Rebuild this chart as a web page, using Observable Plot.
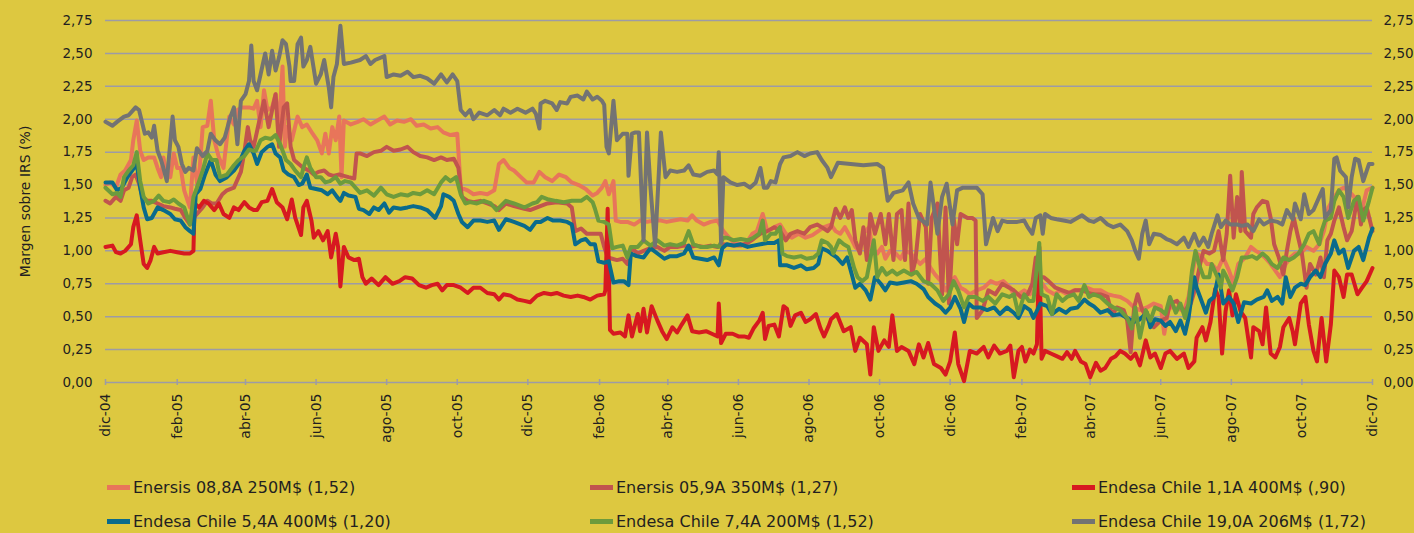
<!DOCTYPE html>
<html><head><meta charset="utf-8">
<script src="https://cdn.jsdelivr.net/npm/d3@7"></script>
<script src="https://cdn.jsdelivr.net/npm/@observablehq/plot@0.6"></script>
<style>
html,body{margin:0;padding:0;background:#ddc840;}
body{width:1414px;height:533px;overflow:hidden;font-family:"DejaVu Sans",sans-serif;color:#231f20;}
#chart svg{display:block;}
#legend{position:relative;height:83px;}
.item{position:absolute;display:flex;align-items:center;height:20px;font-size:16px;white-space:nowrap;}
.sw{width:23px;height:5px;margin-right:3px;}
</style></head><body><div id="chart"></div><div id="legend"></div>
<script>
// Days counted from 1 Dec 2004, value = margin over IRS (%)
const seriesNames = [
  "Enersis 08,8A 250M$ (1,52)", "Enersis 05,9A 350M$ (1,27)", "Endesa Chile 1,1A 400M$ (,90)",
  "Endesa Chile 5,4A 400M$ (1,20)", "Endesa Chile 7,4A 200M$ (1,52)", "Endesa Chile 19,0A 206M$ (1,72)"
];
const seriesColors = ["#e8755a", "#c1544e", "#d71920", "#0a6b8c", "#6d9b3c", "#737373"];
const yTicks = [0, 0.25, 0.5, 0.75, 1, 1.25, 1.5, 1.75, 2, 2.25, 2.5, 2.75];
const tickDates = ["2004-12-01","2005-02-01","2005-04-01","2005-06-01","2005-08-01","2005-10-01","2005-12-01",
  "2006-02-01","2006-04-01","2006-06-01","2006-08-01","2006-10-01","2006-12-01","2007-02-01","2007-04-01",
  "2007-06-01","2007-08-01","2007-10-01","2007-12-01"];
const tickLabels = ["dic-04","feb-05","abr-05","jun-05","ago-05","oct-05","dic-05","feb-06","abr-06","jun-06",
  "ago-06","oct-06","dic-06","feb-07","abr-07","jun-07","ago-07","oct-07","dic-07"];
const yLabel = "Margen sobre IRS (%)";

const enersis088 = [[0,1.50],[4,1.52],[9,1.48],[13,1.58],[17,1.61],[22,1.69],[24,1.84],[27,1.99],[30,1.76],[33,1.69],[37,1.71],[42,1.71],[45,1.63],[48,1.56],[50,1.71],[53,1.58],[56,1.56],[59,1.74],[62,1.63],[65,1.63],[68,1.46],[71,1.38],[73,1.33],[76,1.71],[80,1.46],[84,1.94],[88,1.95],[91,2.14],[94,1.84],[98,1.71],[102,1.63],[107,2.02],[111,1.96],[114,2.07],[118,2.09],[124,2.09],[128,2.08],
[131,2.14],[134,1.94],[137,2.22],[140,2.07],[144,2.09],[147,2.19],[150,1.94],[153,2.40],[155,1.79],[157,1.94],[161,1.84],[166,2.02],[170,1.94],[174,1.96],[179,1.89],[183,1.84],[187,1.74],[190,1.89],[193,1.74],[196,1.94],[199,1.84],[202,2.02],[204,1.56],[206,1.99],[212,1.96],[218,1.98],[223,2.00],[229,1.96],[235,1.99],[241,2.02],[246,1.96],[252,1.99],[258,1.98],[264,2.00],[269,1.95],[275,1.96],[281,1.93],[287,1.94],[292,1.90],[298,1.88],[304,1.89],[307,1.48],[313,1.46],[318,1.43],
[324,1.44],[330,1.43],[336,1.46],[340,1.66],[344,1.69],[349,1.63],[353,1.61],[359,1.56],[364,1.52],[370,1.52],[375,1.60],[380,1.56],[386,1.53],[392,1.58],[398,1.56],[403,1.52],[409,1.50],[415,1.47],[421,1.42],[425,1.44],[429,1.48],[432,1.53],[435,1.43],[439,1.53],[441,1.23],[445,1.22],[451,1.22],[457,1.20],[462,1.23],[468,1.22],[474,1.23],[480,1.23],[485,1.22],[491,1.23],[497,1.24],[503,1.23],[507,1.27],[511,1.23],[517,1.20],[523,1.22],[529,1.23],[534,1.15],[543,1.06],
[549,1.05],[553,1.05],[559,1.13],[563,1.15],[568,1.28],[572,1.15],[578,1.18],[583,1.20],[588,1.13],[593,1.10],[599,1.13],[605,1.10],[611,1.12],[616,1.15],[621,1.18],
[627,1.20],[631,1.15],[635,1.13],[639,1.18],[644,1.10],[648,1.03],[652,1.00],[655,1.13],[660,1.18],[663,1.00],[667,0.98],[671,1.03],[674,0.94],[678,1.00],[683,0.98],[687,0.94],[691,1.00],[696,0.98],[700,0.94],[704,0.90],[709,0.94],[713,0.87],[717,0.82],[722,0.77],[726,0.70],[730,0.75],[734,0.80],[739,0.72],[743,0.70],[747,0.67],[753,0.70],[759,0.72],[765,0.77],[770,0.75],[776,0.77],[782,0.72],
[785,0.67],[789,0.67],[794,0.70],[799,0.67],[804,0.72],[808,0.77],[814,0.70],[820,0.67],[825,0.70],[831,0.67],[837,0.70],[843,0.70],[848,0.72],[854,0.70],[860,0.70],[866,0.67],[871,0.66],[877,0.65],[883,0.62],[889,0.57],[894,0.55],[900,0.57],[906,0.60],[912,0.58],[915,0.37],[919,0.57],
[926,0.57],[932,0.54],[936,0.65],[939,0.82],[943,0.98],[948,0.95],[952,0.90],[956,0.90],[961,0.85],[966,0.95],[971,0.85],[975,0.75],[979,0.90],[985,0.95],[990,1.03],[994,1.00],[998,0.98],[1002,0.95],[1007,0.90],[1011,0.85],[1015,0.80],[1020,0.90],[1024,0.95],[1028,0.98],[1033,0.98],[1038,1.03],[1044,1.00],[1049,1.05],[1053,1.15],[1057,1.33],[1062,1.41],[1066,1.46],[1070,1.48],[1074,1.46],[1079,1.41],[1085,1.28],[1090,1.46],[1095,1.48]];

const enersis059 = [[0,1.38],[4,1.36],[9,1.41],[13,1.38],[16,1.46],[20,1.48],[23,1.56],[26,1.58],[29,1.51],[32,1.41],[36,1.38],[40,1.38],[45,1.36],[50,1.34],[56,1.33],[60,1.32],[65,1.31],[69,1.25],[73,1.20],[76,1.25],[79,1.28],[84,1.33],[88,1.38],[92,1.36],[96,1.36],[101,1.43],[105,1.46],[111,1.48],[117,1.60],[120,1.75],[123,1.94],[125,1.84],[128,1.79],[133,1.99],[137,2.14],[141,1.94],[144,2.07],[147,2.19],[150,1.79],[154,2.09],[157,2.12],[160,1.79],[163,1.69],[167,1.66],[171,1.63],[176,1.61],[180,1.58],[184,1.60],[189,1.61],[193,1.58],[197,1.57],[202,1.58],[206,1.57],[210,1.56],[215,1.55],[217,1.74],[220,1.74],[226,1.72],[232,1.75],[238,1.76],[243,1.79],[249,1.76],[255,1.77],[261,1.79],[266,1.75],[272,1.72],[278,1.71],[284,1.69],[290,1.71],[295,1.69],[301,1.70],[305,1.63],[308,1.41],[313,1.38],[318,1.37],
[324,1.38],[330,1.36],[336,1.34],[340,1.31],[346,1.36],[353,1.34],[362,1.32],[367,1.31],[373,1.33],[382,1.36],[390,1.37],[399,1.36],[403,1.33],[406,1.15],[411,1.17],[416,1.13],[422,1.13],[428,1.13],[431,1.03],[434,0.95],[438,0.94],[442,0.93],[447,0.94],[451,0.90],[455,1.02],[460,0.98],[465,1.00],[471,1.02],[477,1.03],[483,1.00],[488,1.03],[494,1.03],[500,1.04],[506,1.03],[511,1.04],[517,1.03],[523,1.04],[529,1.03],[534,1.05],[543,1.04],
[549,1.04],[555,1.06],[560,1.09],[566,1.13],[572,1.15],[578,1.18],[583,1.15],[588,1.08],[592,1.13],[598,1.15],[604,1.13],[609,1.18],[615,1.20],[619,1.18],[624,1.15],
[627,1.18],[631,1.32],[635,1.25],[639,1.33],[642,1.25],[645,1.31],[648,1.08],[652,0.98],[655,1.18],[658,0.93],[661,1.28],[665,1.13],[670,1.28],[674,1.05],[677,1.28],[681,0.93],[684,1.28],[688,1.31],[691,0.93],[694,1.36],[697,0.82],[700,0.93],[704,1.28],[709,1.18],[711,0.75],[714,1.25],[719,1.36],[723,0.67],[726,1.33],[729,0.60],[733,1.25],[736,1.05],[739,1.28],[745,1.25],[749,1.25],[752,1.23],[753,0.49],[758,0.55],[763,0.70],[769,0.67],[775,0.75],[781,0.72],
[785,0.70],[791,0.65],[797,0.67],[801,0.75],[804,0.95],[807,0.80],[811,0.80],[815,0.77],[821,0.72],[827,0.70],[833,0.68],[838,0.70],[844,0.70],[850,0.68],[854,0.67],[860,0.67],[866,0.65],[870,0.51],[874,0.57],[880,0.55],[883,0.47],[886,0.23],[889,0.57],[892,0.67],[896,0.55],[900,0.49],[906,0.42],[912,0.47],[917,0.49],
[920,0.60],[926,0.62],[932,0.54],[938,0.60],[942,0.72],[946,0.90],[949,1.00],[954,0.98],[958,1.00],[962,1.15],[966,0.93],[969,1.13],[972,1.57],[975,1.10],[978,1.41],[981,1.15],[982,1.60],[985,1.15],[990,1.10],[992,1.28],[995,1.33],[1000,1.38],[1004,1.37],[1007,1.25],[1010,1.05],[1014,0.95],[1018,0.82],[1021,1.00],[1024,1.15],[1027,1.25],[1030,1.13],[1034,0.98],[1038,0.72],[1041,0.90],[1046,0.82],[1050,0.95],[1053,0.80],[1056,1.08],[1059,1.13],[1062,1.23],[1066,1.33],[1070,1.18],[1073,1.08],[1077,1.15],[1082,1.41],[1085,1.20],[1087,1.31],[1090,1.33],[1095,1.15]];

const endesa11 = [[0,1.03],[6,1.04],[9,0.99],[13,0.98],[17,1.00],[22,1.05],[24,1.18],[27,1.27],[30,1.08],[33,0.90],[36,0.87],[39,0.93],[42,1.03],[45,0.98],[50,0.99],[56,1.00],[62,0.99],[68,0.98],[73,0.98],[76,1.00],[77,1.36],[81,1.33],[85,1.38],[89,1.36],[94,1.31],[98,1.36],[102,1.28],[107,1.25],[111,1.33],[115,1.31],[120,1.37],[124,1.33],[128,1.31],
[131,1.31],[135,1.37],[140,1.38],[144,1.47],[148,1.37],[153,1.33],[157,1.24],[161,1.39],[164,1.25],[169,1.12],[171,1.33],[174,1.38],[178,1.23],[180,1.10],[184,1.15],[188,1.08],[192,1.15],[195,0.95],[199,1.13],[201,1.03],[203,0.73],[206,1.03],[210,0.95],[215,0.93],[219,0.94],[222,0.80],[225,0.75],[230,0.79],[236,0.74],[242,0.80],[248,0.75],[254,0.77],[259,0.80],[265,0.79],[271,0.74],[277,0.72],[282,0.74],[287,0.75],[291,0.70],[295,0.74],[301,0.74],[307,0.72],[313,0.68],[318,0.72],
[324,0.72],[330,0.68],[336,0.67],[340,0.63],[344,0.67],[350,0.66],[356,0.63],[362,0.62],[367,0.61],[373,0.66],[379,0.68],[385,0.67],[390,0.68],[396,0.66],[402,0.65],[408,0.66],[413,0.65],[419,0.63],[425,0.66],[431,0.67],[432,0.70],[434,1.32],[436,0.40],[439,0.37],[445,0.38],[449,0.35],[452,0.51],[455,0.35],[460,0.52],[462,0.39],[465,0.56],[468,0.38],[472,0.58],[477,0.47],[481,0.39],[485,0.33],[490,0.42],[494,0.38],[498,0.44],[503,0.51],[507,0.39],[513,0.38],[519,0.39],[524,0.37],[529,0.35],[530,0.60],[532,0.30],[536,0.37],[542,0.37],[547,0.35],
[552,0.35],[556,0.34],[560,0.41],[565,0.47],[568,0.53],[570,0.33],[573,0.43],[578,0.44],[582,0.35],[586,0.58],[589,0.56],[592,0.43],[596,0.51],[601,0.53],[605,0.46],[609,0.48],[614,0.52],[618,0.41],[621,0.35],[625,0.43],
[627,0.48],[632,0.52],[638,0.39],[644,0.42],[648,0.24],[652,0.34],[658,0.29],[661,0.06],[664,0.42],[668,0.24],[673,0.32],[677,0.27],[680,0.51],[684,0.24],[688,0.27],[694,0.24],[699,0.14],[703,0.29],[707,0.19],[711,0.30],[716,0.14],[722,0.11],[726,0.06],[730,0.16],[734,0.38],[737,0.14],[742,0.01],[747,0.24],[753,0.22],[759,0.27],[763,0.19],[768,0.28],[773,0.22],[779,0.24],
[782,0.28],[785,0.04],[789,0.24],[792,0.27],[795,0.16],[799,0.25],[802,0.22],[805,0.29],[807,1.03],[809,0.18],[812,0.24],[817,0.22],[822,0.20],[827,0.18],[831,0.23],[835,0.18],[838,0.24],[843,0.16],[847,0.14],[851,0.04],[856,0.15],[860,0.09],[864,0.11],[869,0.18],[873,0.20],[877,0.24],[881,0.22],[886,0.18],[890,0.22],[894,0.13],[899,0.32],[903,0.19],[907,0.22],[912,0.11],[916,0.22],
[920,0.24],[926,0.18],[932,0.22],[936,0.11],[941,0.16],[943,0.34],[948,0.42],[951,0.32],[955,0.46],[959,0.71],[962,0.65],[965,0.22],[968,0.54],[971,0.70],[974,0.51],[977,0.67],[981,0.54],[985,0.49],[990,0.19],[992,0.42],[997,0.39],[1000,0.29],[1003,0.57],[1007,0.22],[1011,0.19],[1015,0.27],[1018,0.42],[1023,0.49],[1026,0.39],[1028,0.29],[1033,0.60],[1037,0.65],[1040,0.44],[1044,0.24],[1047,0.16],[1051,0.49],[1055,0.16],[1059,0.44],[1062,0.85],[1066,0.80],[1070,0.65],[1073,0.82],[1077,0.82],[1082,0.67],[1086,0.72],[1090,0.77],[1095,0.87]];

const endesa54 = [[0,1.52],[6,1.52],[10,1.46],[14,1.48],[19,1.56],[23,1.61],[27,1.66],[30,1.48],[33,1.33],[36,1.24],[40,1.25],[45,1.33],[50,1.31],[56,1.28],[60,1.24],[65,1.23],[69,1.18],[73,1.15],[76,1.13],[78,1.43],[82,1.47],[86,1.58],[91,1.69],[95,1.58],[99,1.53],[105,1.56],[111,1.61],[115,1.66],[120,1.76],[124,1.81],[128,1.74],
[131,1.66],[135,1.75],[140,1.79],[144,1.81],[147,1.74],[151,1.71],[154,1.61],[158,1.58],[163,1.56],[167,1.50],[170,1.51],[174,1.58],[177,1.48],[182,1.47],[187,1.46],[192,1.43],[196,1.46],[200,1.41],[203,1.38],[206,1.44],[210,1.42],[216,1.41],[219,1.32],[223,1.31],[228,1.28],[232,1.33],[236,1.31],[241,1.36],[245,1.29],[249,1.33],[255,1.32],[261,1.33],[266,1.34],[272,1.33],[278,1.31],[285,1.25],[290,1.34],[292,1.43],[297,1.41],[301,1.38],[305,1.28],[308,1.22],[313,1.18],[318,1.23],
[324,1.23],[330,1.22],[336,1.23],[340,1.16],[346,1.24],[353,1.22],[362,1.19],[367,1.16],[372,1.22],[376,1.22],[382,1.25],[387,1.23],[393,1.23],[399,1.22],[403,1.20],[406,1.05],[411,1.08],[415,1.09],[419,1.05],[423,1.05],[426,0.92],[431,0.91],[435,0.92],[439,0.76],[444,0.77],[448,0.77],[452,0.74],[454,0.98],[459,0.96],[465,0.95],[471,1.02],[477,0.98],[483,0.94],[488,0.96],[494,0.96],[500,0.98],[504,1.04],[508,0.95],[514,0.94],[520,0.93],[526,0.95],[530,0.89],[533,1.02],
[537,1.05],[543,1.04],[549,1.05],[555,1.03],[560,1.04],[566,1.05],[572,1.06],[578,1.06],[582,1.08],[583,0.89],[589,0.89],[595,0.87],[601,0.89],[606,0.86],[612,0.87],[616,0.90],[619,1.02],[624,1.00],
[627,0.98],[632,0.95],[637,0.90],[641,0.95],[645,0.82],[648,0.72],[652,0.75],[657,0.70],[661,0.63],[665,0.80],[670,0.75],[674,0.70],[678,0.76],[684,0.75],[690,0.76],[696,0.77],[701,0.75],[707,0.71],[711,0.65],[717,0.60],[722,0.57],[726,0.53],[730,0.57],[734,0.65],[739,0.56],[742,0.46],[746,0.60],[750,0.57],[756,0.57],[762,0.55],[768,0.57],[773,0.52],[779,0.57],
[785,0.53],[789,0.49],[794,0.58],[799,0.55],[802,0.49],[808,0.60],[814,0.58],[818,0.52],[824,0.56],[830,0.53],[834,0.56],[840,0.57],[846,0.63],[850,0.60],[854,0.58],[860,0.53],[866,0.55],[871,0.51],[877,0.52],[883,0.49],[889,0.46],[894,0.48],[900,0.53],[903,0.42],[907,0.48],[912,0.47],[916,0.43],
[920,0.46],[925,0.39],[929,0.47],[933,0.37],[936,0.49],[941,0.80],[943,0.72],[946,0.65],[951,0.53],[954,0.62],[958,0.65],[962,0.82],[966,0.60],[971,0.65],[975,0.60],[979,0.46],[984,0.61],[990,0.60],[995,0.63],[1001,0.65],[1004,0.70],[1008,0.62],[1013,0.65],[1017,0.60],[1020,0.80],[1024,0.65],[1028,0.72],[1033,0.75],[1037,0.74],[1041,0.80],[1046,0.85],[1050,0.80],[1054,0.90],[1059,0.98],[1062,1.08],[1066,0.98],[1070,1.01],[1074,0.87],[1079,1.00],[1083,1.03],[1087,0.93],[1092,1.10],[1095,1.17]];

const endesa74 = [[0,1.48],[6,1.43],[10,1.44],[13,1.41],[16,1.56],[20,1.61],[24,1.65],[27,1.75],[30,1.53],[33,1.41],[37,1.36],[42,1.38],[46,1.42],[50,1.38],[55,1.37],[59,1.39],[63,1.36],[68,1.33],[71,1.25],[73,1.20],[76,1.41],[79,1.48],[84,1.61],[88,1.74],[92,1.69],[96,1.69],[99,1.56],[105,1.58],[111,1.65],[115,1.69],[120,1.72],[124,1.77],[128,1.76],
[130,1.76],[134,1.84],[138,1.86],[143,1.85],[147,1.88],[151,1.81],[156,1.69],[160,1.66],[164,1.61],[169,1.56],[171,1.63],[174,1.71],[177,1.63],[182,1.56],[186,1.56],[190,1.52],[194,1.53],[199,1.56],[203,1.51],[207,1.53],[212,1.52],[216,1.48],[220,1.44],[226,1.46],[232,1.42],[238,1.48],[243,1.43],[249,1.41],[255,1.43],[261,1.42],[266,1.44],[272,1.43],[278,1.46],[284,1.43],[290,1.52],[294,1.56],[298,1.53],[303,1.56],[307,1.43],[311,1.36],[315,1.37],[321,1.36],
[327,1.38],[333,1.36],[338,1.31],[346,1.38],[353,1.36],[362,1.33],[369,1.36],[373,1.37],[377,1.41],[383,1.39],[389,1.38],[396,1.37],[403,1.38],[411,1.38],[416,1.41],[421,1.37],[423,1.32],[426,1.23],[431,1.22],[435,1.20],[438,1.02],[442,1.03],[447,1.04],[451,0.95],[454,1.03],[460,1.03],[465,1.08],[471,1.04],[477,1.08],[483,1.04],[488,1.05],[494,1.04],[500,1.06],[504,1.15],[508,1.05],[514,1.03],[520,1.03],[526,1.04],[530,1.03],[534,1.10],
[537,1.10],[543,1.08],[549,1.09],[555,1.08],[560,1.10],[565,1.13],[568,1.23],[570,1.08],[575,1.13],[579,1.13],[583,1.18],[585,0.98],[589,0.96],[595,0.95],[601,0.96],[606,0.94],[612,0.95],[616,0.98],[619,1.08],[624,1.06],
[627,1.03],[629,0.98],[634,1.08],[638,1.05],[642,1.03],[647,0.87],[650,0.80],[654,0.77],[658,0.80],[664,1.08],[667,0.80],[671,0.87],[675,0.82],[680,0.85],[684,0.82],[690,0.85],[696,0.82],[701,0.84],[707,0.77],[713,0.75],[719,0.70],[724,0.62],[729,0.67],[733,0.77],[737,0.70],[742,0.57],[746,0.65],[752,0.65],[758,0.62],[763,0.65],[769,0.60],[775,0.67],[781,0.65],
[785,0.67],[789,0.52],[794,0.67],[798,0.62],[802,0.62],[807,1.06],[809,0.67],[814,0.65],[818,0.52],[822,0.67],[827,0.62],[831,0.65],[837,0.67],[841,0.62],[846,0.74],[850,0.65],[854,0.67],[860,0.65],[866,0.60],[871,0.57],[877,0.55],[883,0.49],[887,0.41],[890,0.57],[894,0.34],[899,0.55],[903,0.47],[907,0.57],[912,0.55],[916,0.52],
[920,0.65],[925,0.53],[929,0.60],[933,0.49],[936,0.60],[939,0.85],[942,1.00],[945,0.90],[949,0.80],[954,0.80],[956,0.90],[961,0.80],[964,0.72],[966,0.85],[969,0.80],[974,0.70],[978,0.80],[982,0.95],[987,0.95],[991,0.96],[995,0.94],[1000,0.98],[1004,0.95],[1008,0.90],[1013,0.87],[1018,0.95],[1023,0.93],[1027,0.95],[1031,0.98],[1036,1.05],[1040,1.13],[1044,1.15],[1049,1.05],[1051,1.15],[1054,1.23],[1059,1.25],[1062,1.38],[1066,1.46],[1070,1.41],[1074,1.25],[1079,1.38],[1083,1.41],[1087,1.23],[1092,1.38],[1095,1.48]];

const endesa190 = [[0,1.98],[6,1.95],[10,1.98],[16,2.02],[20,2.03],[26,2.09],[29,2.07],[34,1.89],[37,1.90],[40,1.86],[42,1.95],[45,1.76],[48,1.69],[50,1.63],[53,1.53],[58,2.02],[60,1.84],[63,1.79],[66,1.66],[69,1.60],[72,1.63],[76,1.61],[79,1.78],[84,1.72],[88,1.76],[91,1.89],[95,1.84],[99,1.81],[103,1.86],[108,2.02],[111,2.09],[114,1.81],[117,2.14],[121,2.19],[124,2.29],[126,2.56],[128,2.29],[131,2.22],[134,2.34],[138,2.50],[141,2.34],[144,2.52],[147,2.37],[150,2.47],[153,2.60],[156,2.57],[159,2.40],[160,2.29],[163,2.29],[166,2.57],[169,2.62],[171,2.40],[174,2.45],[177,2.55],[182,2.27],[186,2.34],[189,2.45],[193,2.24],[195,2.09],[197,2.32],[200,2.42],[203,2.71],[206,2.42],[212,2.43],[220,2.45],[225,2.48],[229,2.42],[233,2.45],[241,2.48],[243,2.32],[249,2.34],[255,2.33],[261,2.36],[266,2.32],[272,2.33],[278,2.31],[284,2.27],[290,2.34],[295,2.28],[300,2.34],[304,2.29],[307,2.07],[311,2.03],[315,2.07],[318,2.00],[323,2.05],[330,2.03],[336,2.07],[341,2.03],
[344,2.08],[350,2.05],[356,2.08],[363,2.05],[369,2.08],[372,2.04],[375,1.93],[376,2.12],[380,2.14],[386,2.12],[390,2.07],[393,2.13],[399,2.12],[402,2.17],[408,2.18],[413,2.15],[416,2.21],[421,2.15],[425,2.17],[429,2.14],[431,2.11],[433,1.79],[435,1.74],[439,2.14],[442,1.84],[447,1.89],[451,1.89],[452,1.57],[455,1.89],[458,1.90],[461,1.90],[465,1.08],[468,1.90],[471,1.48],[475,1.04],[480,1.90],[484,1.56],[488,1.61],[494,1.60],[500,1.61],[504,1.65],[508,1.58],[514,1.57],[520,1.60],[526,1.61],[529,1.58],[530,1.75],[532,1.06],[534,1.56],[540,1.52],[546,1.50],[552,1.51],[557,1.48],[562,1.52],[566,1.63],[569,1.48],[572,1.48],[575,1.53],[579,1.52],[583,1.66],[586,1.71],[592,1.72],[598,1.75],[604,1.72],[609,1.74],[615,1.75],[619,1.69],[624,1.63],[627,1.56],
[633,1.67],[644,1.66],[655,1.65],[667,1.66],[672,1.63],[676,1.38],[681,1.44],[689,1.46],[694,1.52],[698,1.36],[703,1.25],[710,1.20],[713,1.52],[719,1.13],[723,1.41],[727,1.51],[732,1.20],[736,1.46],[741,1.48],[747,1.48],[753,1.48],[758,1.43],[761,1.05],[765,1.18],[767,1.25],[771,1.15],[775,1.23],[779,1.22],
[788,1.22],[794,1.23],[797,1.18],[801,1.13],[804,1.25],[808,1.27],[810,1.13],[812,1.28],[817,1.25],[822,1.24],[828,1.23],[834,1.22],[838,1.24],[844,1.27],[850,1.23],[854,1.22],[860,1.25],[866,1.20],[871,1.18],[877,1.20],[883,1.15],[887,1.08],[890,1.00],[893,0.94],[896,1.13],[899,1.23],[902,1.05],[906,1.13],[912,1.12],[917,1.09],
[920,1.08],[926,1.05],[932,1.10],[936,1.03],[941,1.13],[945,1.04],[949,1.10],[953,1.03],[956,1.13],[961,1.27],[964,1.18],[968,1.23],[972,1.20],[978,1.20],[982,1.19],[987,1.20],[992,1.15],[997,1.24],[1001,1.20],[1007,1.23],[1013,1.22],[1017,1.20],[1021,1.31],[1026,1.24],[1028,1.36],[1033,1.24],[1036,1.43],[1040,1.28],[1044,1.31],[1049,1.41],[1052,1.47],[1054,1.25],[1059,1.31],[1062,1.70],[1064,1.71],[1067,1.61],[1072,1.56],[1074,1.33],[1077,1.56],[1080,1.70],[1083,1.69],[1087,1.53],[1092,1.66],[1095,1.66]];

const seriesData = [enersis088, enersis059, endesa11, endesa54, endesa74, endesa190];

const startMs = Date.UTC(2004, 11, 1);
const toDate = d => new Date(startMs + d * 864e5);
const tickDateObjs = tickDates.map(s => new Date(s + "T00:00:00Z"));
const labelByTime = new Map(tickDateObjs.map((d, i) => [+d, tickLabels[i]]));
const fmtY = v => v.toFixed(2).replace(".", ",");
const grid = "#9d9ba5";
const ink = "#231f20";

const lineMarks = seriesData.map((arr, i) =>
  Plot.line(arr.map(([d, v]) => ({date: toDate(d), value: v})), {
    x: "date", y: "value", stroke: seriesColors[i], strokeWidth: 4,
    strokeLinejoin: "round", strokeLinecap: "round"
  })
);

const chart = Plot.plot({
  width: 1414, height: 450,
  marginLeft: 105, marginRight: 42, marginTop: 20, marginBottom: 68,
  style: {background: "transparent", fontFamily: "'DejaVu Sans', sans-serif", fontSize: "13.5px", color: ink},
  x: {type: "utc", domain: [tickDateObjs[0], tickDateObjs[tickDateObjs.length - 1]]},
  y: {domain: [0, 2.75]},
  marks: [
    Plot.ruleY(yTicks, {stroke: grid, strokeWidth: 1.5}),
    Plot.ruleX(tickDateObjs, {y1: 0, y2: 0, insetTop: -3, insetBottom: -3, stroke: grid, strokeWidth: 1.5}),
    Plot.axisY(yTicks, {anchor: "left", tickSize: 0, tickPadding: 13, tickFormat: fmtY, label: null, fontSize: 13.5}),
    Plot.axisY(yTicks, {anchor: "right", tickSize: 0, tickPadding: 11, tickFormat: fmtY, label: null, fontSize: 13.5}),
    Plot.axisX(tickDateObjs, {tickSize: 0, tickPadding: 11, tickRotate: -90, tickFormat: d => labelByTime.get(+d), label: null, fontSize: 14}),
    Plot.text([yLabel], {frameAnchor: "left", textAnchor: "middle", rotate: -90, dx: -80, fontSize: 14, fill: ink}),
    ...lineMarks
  ]
});
document.getElementById("chart").appendChild(chart);

// Legend (HTML, below the SVG)
const legendCols = [107, 590, 1072];
const legendRows = [37, 71];
const legend = document.getElementById("legend");
seriesNames.forEach((name, i) => {
  const item = document.createElement("div");
  item.className = "item";
  item.style.left = legendCols[i % 3] + "px";
  item.style.top = (legendRows[Math.floor(i / 3)] - 10) + "px";
  const sw = document.createElement("span");
  sw.className = "sw";
  sw.style.background = seriesColors[i];
  const tx = document.createElement("span");
  tx.textContent = name;
  item.appendChild(sw);
  item.appendChild(tx);
  legend.appendChild(item);
});
</script></body></html>
